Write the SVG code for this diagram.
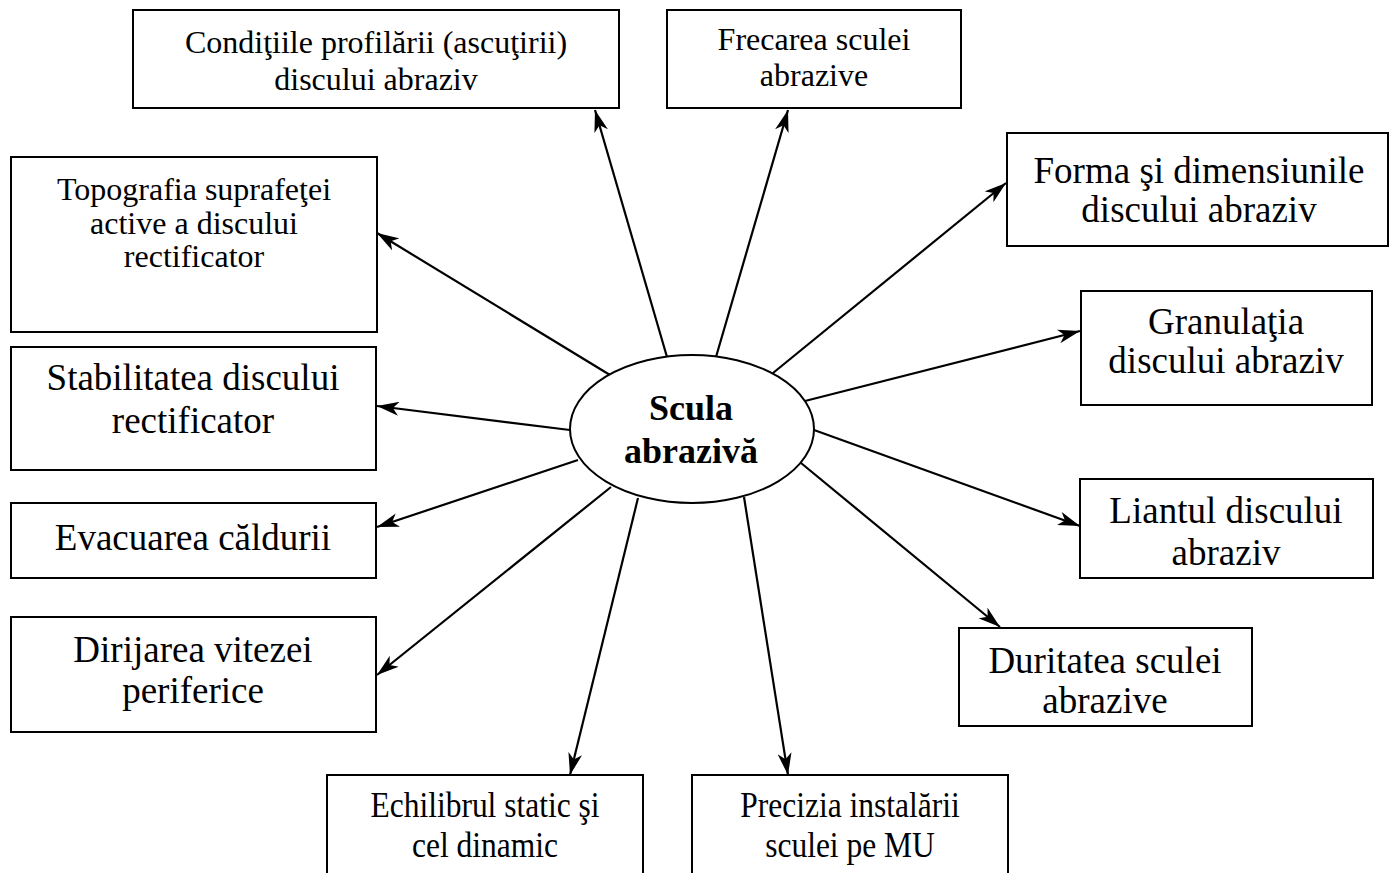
<svg xmlns="http://www.w3.org/2000/svg" width="1390" height="873" viewBox="0 0 1390 873">
<style>
.box{fill:#fff;stroke:#000;stroke-width:2}
.t{font-family:"Liberation Serif","Times New Roman",serif;fill:#000;text-anchor:middle}
.s{font-size:32px}
.l{font-size:37px}
.n{font-size:35px}
.c{font-family:"Liberation Serif","Times New Roman",serif;font-weight:bold;font-size:36px;text-anchor:middle}
.ln{stroke:#000;stroke-width:2.2;fill:none;marker-end:url(#ah)}
</style>
<defs>
<marker id="ah" markerUnits="userSpaceOnUse" markerWidth="22" markerHeight="14" viewBox="0 0 22 14" refX="22" refY="7" orient="auto">
<path d="M0,0 L22,7 L0,14 L6,7 z" fill="#000"/>
</marker>
</defs>
<rect width="1390" height="873" fill="#fff"/>
<g id="connectors">
<line class="ln" x1="667" y1="357" x2="595" y2="110"/>
<line class="ln" x1="716" y1="357" x2="788" y2="110"/>
<line class="ln" x1="773" y1="373" x2="1006" y2="183"/>
<line class="ln" x1="805" y1="401" x2="1080" y2="331"/>
<line class="ln" x1="814" y1="430" x2="1080" y2="526"/>
<line class="ln" x1="801" y1="463" x2="1000" y2="627"/>
<line class="ln" x1="744" y1="497" x2="788" y2="775"/>
<line class="ln" x1="638" y1="498" x2="570" y2="775"/>
<line class="ln" x1="611" y1="487" x2="377" y2="675"/>
<line class="ln" x1="578" y1="460" x2="377" y2="527"/>
<line class="ln" x1="570" y1="430" x2="377" y2="406"/>
<line class="ln" x1="610" y1="375" x2="377" y2="233"/>
</g>
<g id="center">
<ellipse cx="692" cy="429" rx="122" ry="74" fill="#fff" stroke="#000" stroke-width="2"/>
<text class="c" x="691" y="420">Scula</text>
<text class="c" x="691" y="463">abrazivă</text>
</g>
<g id="n-conditiile">
<rect class="box" x="133" y="10" width="486" height="98"/>
<text class="t s" x="376" y="53">Condiţiile profilării (ascuţirii)</text>
<text class="t s" x="376" y="90">discului abraziv</text>
</g>
<g id="n-frecarea">
<rect class="box" x="667" y="10" width="294" height="98"/>
<text class="t s" x="814" y="50">Frecarea sculei</text>
<text class="t s" x="814" y="86">abrazive</text>
</g>
<g id="n-forma">
<rect class="box" x="1007" y="133" width="381" height="113"/>
<text class="t l" x="1199" y="183">Forma şi dimensiunile</text>
<text class="t l" x="1199" y="222">discului abraziv</text>
</g>
<g id="n-granulatia">
<rect class="box" x="1081" y="291" width="291" height="114"/>
<text class="t l" x="1226" y="334">Granulaţia</text>
<text class="t l" x="1226" y="373">discului abraziv</text>
</g>
<g id="n-liantul">
<rect class="box" x="1080" y="479" width="293" height="99"/>
<text class="t l" x="1226" y="523">Liantul discului</text>
<text class="t l" x="1226" y="565">abraziv</text>
</g>
<g id="n-duritatea">
<rect class="box" x="959" y="628" width="293" height="98"/>
<text class="t l" x="1105" y="673">Duritatea sculei</text>
<text class="t l" x="1105" y="713">abrazive</text>
</g>
<g id="n-precizia">
<rect class="box" x="692" y="775" width="316" height="110"/>
<text class="t n" transform="translate(850 817) scale(0.9 1)">Precizia instalării</text>
<text class="t n" transform="translate(850 857) scale(0.9 1)">sculei pe MU</text>
</g>
<g id="n-echilibrul">
<rect class="box" x="327" y="775" width="316" height="110"/>
<text class="t n" transform="translate(485 817) scale(0.9 1)">Echilibrul static şi</text>
<text class="t n" transform="translate(485 857) scale(0.9 1)">cel dinamic</text>
</g>
<g id="n-dirijarea">
<rect class="box" x="11" y="617" width="365" height="115"/>
<text class="t l" x="193" y="662">Dirijarea vitezei</text>
<text class="t l" x="193" y="703">periferice</text>
</g>
<g id="n-evacuarea">
<rect class="box" x="11" y="503" width="365" height="75"/>
<text class="t l" x="193" y="550">Evacuarea căldurii</text>
</g>
<g id="n-stabilitatea">
<rect class="box" x="11" y="347" width="365" height="123"/>
<text class="t l" x="193" y="390">Stabilitatea discului</text>
<text class="t l" x="193" y="433">rectificator</text>
</g>
<g id="n-topografia">
<rect class="box" x="11" y="157" width="366" height="175"/>
<text class="t s" x="194" y="200">Topografia suprafeţei</text>
<text class="t s" x="194" y="234">active a discului</text>
<text class="t s" x="194" y="267">rectificator</text>
</g>
</svg>
